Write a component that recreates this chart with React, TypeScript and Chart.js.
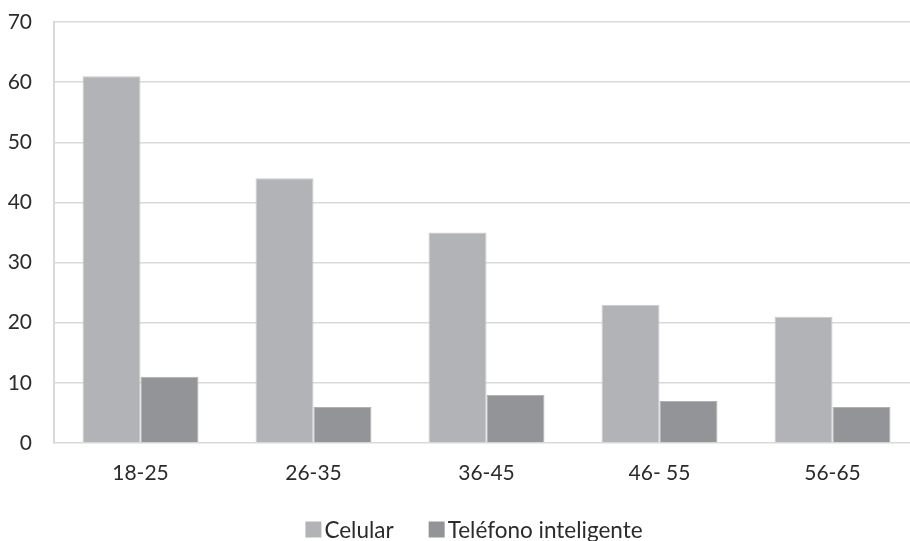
import React, { useEffect, useRef } from "react";
import { Chart, registerables } from "chart.js";

Chart.register(...registerables);

const categories = ["18-25", "26-35", "36-45", "46- 55", "56-65"];
const celularValues = [61, 44, 35, 23, 21];
const smartphoneValues = [11, 6, 8, 7, 6];
const seriesLabels = ["Celular", "Teléfono inteligente"];
const yTicksMax = 70;
const yTicksStep = 10;

const FONT = "Lato, 'Open Sans', sans-serif";
const TEXT = "#2b2b2b";
const GRID = "#d9d9d9";

const bottomLegend = {
  id: "bottomLegend",
  afterDraw(chart: any) {
    const ctx = chart.ctx;
    const opts = chart.options.plugins.bottomLegend;
    ctx.save();
    ctx.font = `${opts.fontSize}px ${FONT}`;
    ctx.textBaseline = "middle";
    ctx.textAlign = "left";
    const items = chart.data.datasets.map((ds: any) => ({
      label: ds.label,
      color: ds.backgroundColor,
      w: opts.box + opts.boxGap + ctx.measureText(ds.label).width,
    }));
    const total =
      items.reduce((s: number, it: any) => s + it.w, 0) +
      opts.itemGap * (items.length - 1);
    let x = opts.centerX - total / 2;
    const y = opts.centerY;
    for (const it of items) {
      ctx.fillStyle = it.color;
      ctx.fillRect(x, y - opts.box / 2, opts.box, opts.box);
      ctx.fillStyle = TEXT;
      ctx.fillText(it.label, x + opts.box + opts.boxGap, y + 1);
      x += it.w + opts.itemGap;
    }
    ctx.restore();
  },
};

export default function App() {
  const ref = useRef<HTMLCanvasElement>(null);
  useEffect(() => {
    if (!ref.current) return;
    const chart = new Chart(ref.current, {
      type: "bar",
      data: {
        labels: categories,
        datasets: [
          {
            label: seriesLabels[0],
            data: celularValues,
            backgroundColor: "#b2b3b7",
            borderColor: "#c9cacc",
            borderWidth: 1,
          },
          {
            label: seriesLabels[1],
            data: smartphoneValues,
            backgroundColor: "#939497",
            borderColor: "#b0b1b3",
            borderWidth: 1,
          },
        ],
      },
      options: {
        responsive: false,
        animation: false,
        devicePixelRatio: 1,
        layout: { padding: { left: 0, right: 1, top: 22, bottom: 48 } },
        datasets: {
          bar: { categoryPercentage: 0.67, barPercentage: 1 },
        },
        plugins: {
          legend: { display: false },
          tooltip: { enabled: false },
          bottomLegend: {
            fontSize: 22.5,
            box: 16,
            boxGap: 3,
            itemGap: 35,
            centerX: 474,
            centerY: 529.5,
          },
        } as any,
        scales: {
          x: {
            grid: { display: false, drawTicks: false },
            border: { display: false },
            ticks: {
              color: TEXT,
              font: { family: FONT, size: 21 },
              padding: 18,
              maxRotation: 0,
            },
            afterFit: (s: any) => {
              s.height = 50;
            },
          },
          y: {
            min: 0,
            max: yTicksMax,
            grid: {
              color: GRID,
              lineWidth: 1.5,
              drawTicks: true,
              tickLength: 22,
              tickColor: "rgba(0,0,0,0)",
            },
            border: { display: true, color: GRID, width: 2 },
            ticks: {
              stepSize: yTicksStep,
              color: TEXT,
              font: { family: FONT, size: 21 },
              padding: 0,
            },
            afterFit: (s: any) => {
              s.width = 54;
            },
          },
        },
      },
      plugins: [bottomLegend],
    });
    return () => chart.destroy();
  }, []);
  return (
    <div
      style={{
        position: "fixed",
        left: 0,
        top: 0,
        width: 910,
        height: 541,
        overflow: "hidden",
        background: "#fff",
      }}
    >
      <canvas ref={ref} width={920} height={541} />
    </div>
  );
}
